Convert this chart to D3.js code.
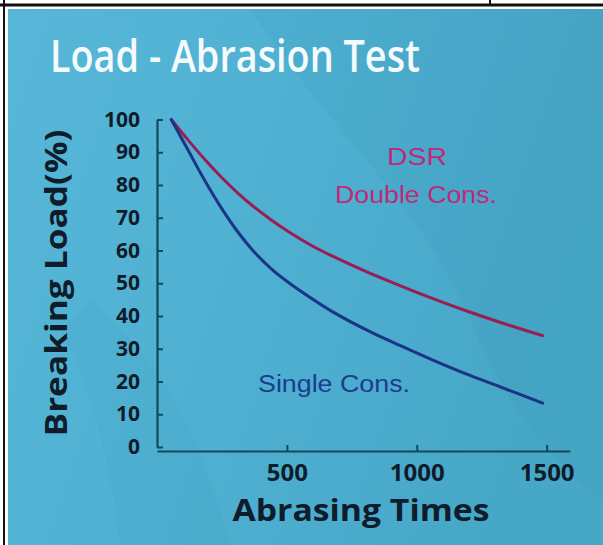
<!DOCTYPE html>
<html>
<head>
<meta charset="utf-8">
<script src="https://cdn.jsdelivr.net/npm/d3@7"></script>
<style>
  html, body { margin: 0; padding: 0; background: #fff; }
  svg { display: block; }
</style>
</head>
<body>
<svg id="chart" width="603" height="545"></svg>
<script>
// values
const abrasingTimes = [55, 120, 185, 250, 310, 375, 440, 505, 600, 680, 810, 935, 1060, 1190, 1320, 1485];
const dsrDouble = [100, 93.7, 87.7, 82.2, 77.6, 73.2, 69.3, 65.8, 61.3, 58.1, 53.4, 49.3, 45.4, 41.6, 38.1, 34.0];
const singleCons = [100, 90.6, 81.2, 72.7, 65.8, 59.5, 54.4, 50.3, 45.1, 41.1, 35.6, 31.0, 26.6, 22.3, 18.4, 13.4];
const xTicks = [500, 1000, 1500];
const yTicks = [0, 10, 20, 30, 40, 50, 60, 70, 80, 90, 100];

const svg = d3.select("#chart");
const width = 603, height = 545;
const axisColor = "#17485a";
const labelColor = "#0f1c2a";

// background photo area
const defs = svg.append("defs");
const grad = defs.append("linearGradient").attr("id", "bg").attr("x1", 0).attr("x2", 1).attr("y1", 0).attr("y2", 0.3);
grad.append("stop").attr("offset", "0%").attr("stop-color", "#58b7d9");
grad.append("stop").attr("offset", "50%").attr("stop-color", "#4fb0d2");
grad.append("stop").attr("offset", "100%").attr("stop-color", "#47a7c7");

svg.append("rect").attr("x", 8).attr("y", 9).attr("width", width - 8).attr("height", height - 9).attr("fill", "url(#bg)");
// soft patches in the paper texture
svg.append("path")
  .attr("d", "M250,9 C320,120 420,200 470,320 C500,400 560,470 603,500 L603,9 Z")
  .attr("fill", "#2f8aa8").attr("opacity", 0.1);
svg.append("path")
  .attr("d", "M90,300 C160,360 200,430 230,545 L120,545 C110,460 90,380 60,330 Z")
  .attr("fill", "#2f8aa8").attr("opacity", 0.08);

// table frame around the picture
svg.append("line").attr("x1", 0).attr("x2", width).attr("y1", 5).attr("y2", 5).attr("stroke", "#111").attr("stroke-width", 3);
svg.append("line").attr("x1", 4).attr("x2", 4).attr("y1", 0).attr("y2", height).attr("stroke", "#111").attr("stroke-width", 2);
svg.append("line").attr("x1", 490).attr("x2", 490).attr("y1", 0).attr("y2", 5).attr("stroke", "#111").attr("stroke-width", 2);

const x = d3.scaleLinear().domain([0, 1590]).range([157, 570]);
const y = d3.scaleLinear().domain([0, 100]).range([447, 119.5]);

// title
svg.append("text")
  .attr("x", 50).attr("y", 72)
  .attr("textLength", 370).attr("lengthAdjust", "spacingAndGlyphs")
  .style("font-family", "'Open Sans', sans-serif")
  .style("font-size", "45px").style("font-weight", 600)
  .attr("fill", "#f4fbfd")
  .text("Load - Abrasion Test");

// y axis
const yAxis = svg.append("g")
  .attr("transform", `translate(${x(0)},0)`)
  .call(d3.axisLeft(y).tickValues(yTicks).tickSizeInner(-6).tickSizeOuter(0).tickPadding(17));
yAxis.select(".domain").attr("stroke", axisColor).attr("stroke-width", 2.2);
yAxis.selectAll(".tick line").attr("stroke", axisColor).attr("stroke-width", 2);
yAxis.selectAll(".tick text")
  .style("font-family", "'Open Sans', sans-serif").style("font-size", "21px").style("font-weight", 700)
  .attr("fill", labelColor);

// x axis
const xAxis = svg.append("g")
  .attr("transform", `translate(0,${y(0) + 4})`)
  .call(d3.axisBottom(x).tickValues(xTicks).tickFormat(d3.format("d"))
    .tickSizeInner(-6).tickSizeOuter(0).tickPadding(13));
xAxis.select(".domain").attr("stroke", axisColor).attr("stroke-width", 2.2);
xAxis.selectAll(".tick line").attr("stroke", axisColor).attr("stroke-width", 2);
xAxis.selectAll(".tick text")
  .style("font-family", "'Open Sans', sans-serif").style("font-size", "24px").style("font-weight", 700)
  .attr("fill", labelColor);

// axis titles
svg.append("text")
  .attr("x", 361).attr("y", 521)
  .attr("text-anchor", "middle")
  .attr("textLength", 257).attr("lengthAdjust", "spacingAndGlyphs")
  .style("font-family", "'Open Sans', sans-serif").style("font-size", "30px").style("font-weight", 700)
  .attr("fill", labelColor)
  .text("Abrasing Times");

svg.append("text")
  .attr("transform", "translate(67,283) rotate(-90)")
  .attr("text-anchor", "middle")
  .attr("textLength", 307).attr("lengthAdjust", "spacingAndGlyphs")
  .style("font-family", "'Open Sans', sans-serif").style("font-size", "31px").style("font-weight", 700)
  .attr("fill", labelColor)
  .text("Breaking Load(%)");

// curves
const line = (vals) => d3.line()
  .x((d, i) => x(abrasingTimes[i]))
  .y((d) => y(d))
  .curve(d3.curveCatmullRom)(vals);

svg.append("path")
  .attr("d", line(dsrDouble))
  .attr("fill", "none").attr("stroke", "#9a1e52").attr("stroke-width", 3).attr("stroke-linecap", "round");

svg.append("path")
  .attr("d", line(singleCons))
  .attr("fill", "none").attr("stroke", "#1a3585").attr("stroke-width", 3).attr("stroke-linecap", "round");

// series labels
svg.append("text")
  .attr("x", 417).attr("y", 165).attr("text-anchor", "middle")
  .attr("textLength", 60).attr("lengthAdjust", "spacingAndGlyphs")
  .style("font-family", "'Liberation Sans', Arial, sans-serif").style("font-size", "23px")
  .attr("fill", "#bf2a78")
  .text("DSR");
svg.append("text")
  .attr("x", 416).attr("y", 203).attr("text-anchor", "middle")
  .attr("textLength", 162).attr("lengthAdjust", "spacingAndGlyphs")
  .style("font-family", "'Liberation Sans', Arial, sans-serif").style("font-size", "23px")
  .attr("fill", "#bf2a78")
  .text("Double Cons.");
svg.append("text")
  .attr("x", 334).attr("y", 392).attr("text-anchor", "middle")
  .attr("textLength", 152).attr("lengthAdjust", "spacingAndGlyphs")
  .style("font-family", "'Liberation Sans', Arial, sans-serif").style("font-size", "23px")
  .attr("fill", "#1b3c8f")
  .text("Single Cons.");
</script>
</body>
</html>
